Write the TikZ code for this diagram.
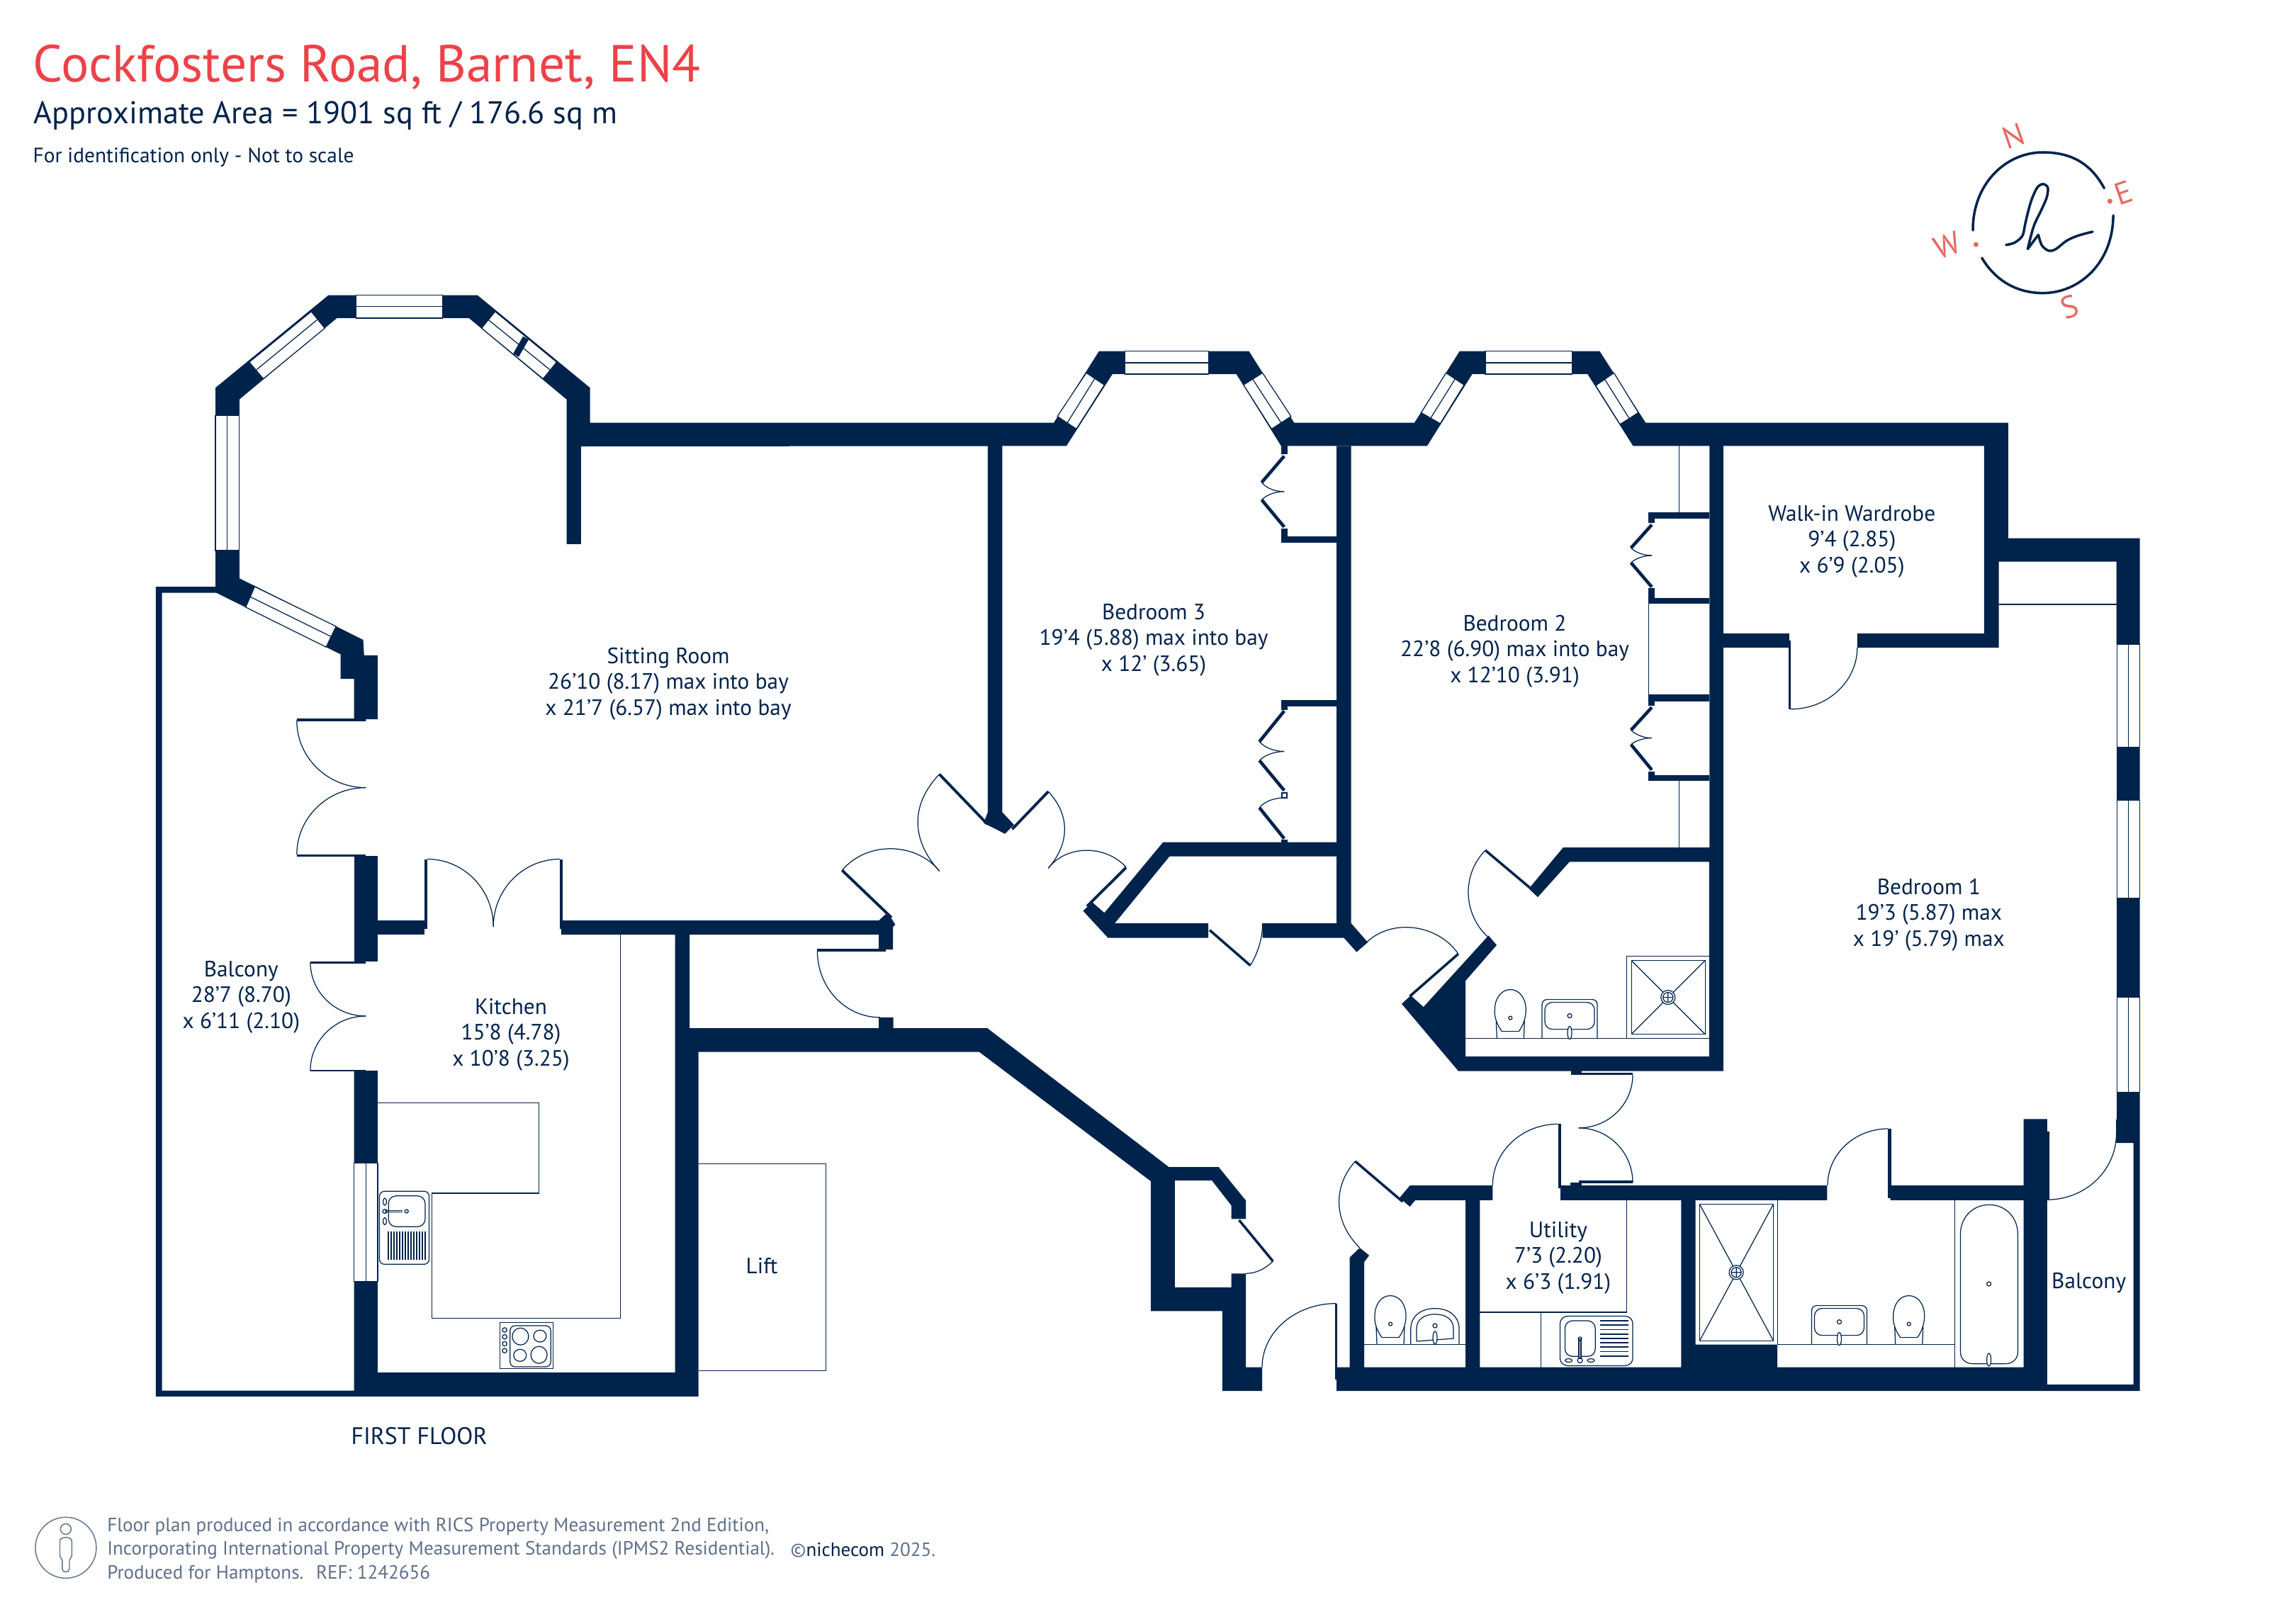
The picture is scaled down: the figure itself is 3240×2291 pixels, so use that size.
\documentclass[tikz,border=0pt]{standalone}
\usepackage{fontspec}
\setmainfont{PT Sans}
\definecolor{navy}{RGB}{0,35,75}
\definecolor{brandred}{RGB}{236,66,72}
\definecolor{compred}{RGB}{230,106,98}
\definecolor{foot}{RGB}{95,112,137}
\tikzset{
 wall/.style={fill=navy,draw=none},
 fixture/.style={draw=navy,line width=0.35pt},
 leaf/.style={draw=navy,line width=1.3pt},
 window/.style={fill=white,draw=navy,line width=0.35pt},
 room/.style={text=navy,align=center,inner sep=0pt,font=\fontsize{8.9}{10.35}\selectfont},
 head/.style={inner sep=0pt,anchor=base west},
 footer/.style={inner sep=0pt,anchor=west,text=foot,font=\fontsize{7.7}{9}\selectfont},
 compass/.style={text=compred,inner sep=0pt,rotate=19,font=\fontsize{12.5}{13}\selectfont}
}
\newcommand\arcVH[4]{\draw[fixture] (#1,#2) .. controls (#1,{#2+0.5523*(#4-#2)}) and ({#3-0.5523*(#3-#1)},#4) .. (#3,#4);}
\newcommand\winbox[6]{\filldraw[window] #1 -- #2 -- #3 -- #4 -- cycle; \draw[fixture] #5 -- #6;}
\newcommand\wcpan[2]{\begin{scope}[shift={(#1,#2)}]
 \draw[fixture] (-12,-10) .. controls (-18,-18) and (-23,-30) .. (-22,-40) .. controls (-22,-58) and (-12,-69) .. (0,-69) .. controls (12,-69) and (22,-58) .. (22,-40) .. controls (22,-30) and (18,-18) .. (12,-10) -- cycle;
 \draw[fixture] (-20,-25) -- (-19,0) (20,-25) -- (19,0);
 \draw[fixture] (0,-29) circle (2.5);
 \end{scope}}
\newcommand\basin[2]{\begin{scope}[shift={(#1,#2)}]
 \draw[fixture,rounded corners=2] (-39,0) -- (-39,-55) -- (39,-55) -- (39,0);
 \draw[fixture,rounded corners=3] (-35,-51) rectangle (35,-13);
 \draw[fixture] (0,-32) circle (3);
 \draw[fixture,fill=white] (0,-8) ellipse (3 and 9);
 \end{scope}}
\newcommand\drain[2]{\begin{scope}[shift={(#1,#2)}]
 \draw[fixture,fill=white] (0,0) circle (10);
 \draw[fixture] (0,0) circle (7) (-7,0) -- (7,0) (0,-7) -- (0,7);
 \end{scope}}
\begin{document}
\begin{tikzpicture}[x=0.01cm,y=-0.01cm]
\useasboundingbox (0,0) rectangle (3240,2291);
\fill[white] (0,0) rectangle (3240,2291);

% main upper wall run
\fill[wall] (304,547.3) -- (463.4,416.7) -- (673.9,416.7) -- (832.7,547.3) -- (832.7,596.5) -- (1487,596.7) -- (1550.8,495.7) -- (1762.5,495.7) -- (1826.3,596.7) -- (1995.9,596.7) -- (2059.7,495.7) -- (2257.4,495.7) -- (2322.3,596.7) -- (2833.8,596.7) -- (2833.8,759.5) -- (3019.7,759.5) -- (3019.7,909) -- (2986.5,909) -- (2986.5,792.7) -- (2820.6,792.7) -- (2820.6,914.1) -- (2620.8,914.1) -- (2620.8,894.2) -- (2799.9,894.2) -- (2799.9,629.4) -- (2304.5,629.4) -- (2240.2,527.9) -- (2077.6,527.9) -- (2013.8,629.4) -- (1807.8,629.4) -- (1744.6,527.9) -- (1569.9,527.9) -- (1504.8,629.4) -- (819.9,630) -- (819.9,767.8) -- (799.5,767.8) -- (799.5,563.7) -- (661.7,448.9) -- (475.5,448.9) -- (337.8,563.7) -- (337.8,816.2) -- (512.5,903) -- (513.8,924.9) -- (532.9,924.9) -- (532.9,1015.2) -- (516.3,1015.2) -- (516.3,1017.8) -- (418.8,1017.8) -- (418.8,1014.2) -- (499.7,1014.2) -- (499.7,958) -- (480.6,958) -- (480.6,923.4) -- (305.2,836.6) -- (304,828) -- cycle;
% thin balcony wall
\fill[wall] (219.8,828) -- (305,828) -- (305,836.6) -- (228.7,836.6) -- (228.7,1962.6) -- (510,1962.6) -- (510,1970.8) -- (219.8,1970.8) -- cycle;
% wall between sitting room door and kitchen
\fill[wall] (499.7,1208) rectangle (532.9,1357.2);
\fill[wall] (532.9,1299.2) rectangle (599.2,1319.2);
\fill[wall] (599.2,1212.5) rectangle (603,1311);
\fill[wall] (790,1212.5) rectangle (793.7,1311);
\fill[wall] (418.8,1206) rectangle (516.3,1209);
\fill[wall] (437.9,1357) rectangle (516.3,1360);
\fill[wall] (437.9,1509.5) rectangle (516.3,1512);
% kitchen and corridor wall
\fill[wall] (499.7,1511) -- (532.9,1511) -- (532.9,1937.1) -- (952.5,1937.1) -- (952.5,1319.2) -- (791.8,1319.2) -- (791.8,1299.2) -- (1240,1299.2) -- (1250,1290) -- (1258.3,1296.7) -- (1263.3,1305) -- (1260,1308.3) -- (1260,1340) -- (1240.2,1340) -- (1240.2,1319.2) -- (973,1319.2) -- (973,1451) -- (1240.2,1451) -- (1240.2,1435.8) -- (1260.6,1435.8) -- (1260.6,1451) -- (1393.2,1451) -- (1649.6,1647.2) -- (1719.8,1647.2) -- (1758,1694.3) -- (1758,1720.3) -- (1737.6,1720.3) -- (1737.6,1701.4) -- (1710.2,1666.1) -- (1657.9,1666.1) -- (1657.9,1816.8) -- (1737.6,1816.8) -- (1737.6,1797.3) -- (1758,1797.3) -- (1758,1929.6) -- (1781,1929.6) -- (1781,1963.1) -- (1724.9,1963.1) -- (1724.9,1850.4) -- (1624.1,1850.4) -- (1624.1,1667.2) -- (1381.8,1484.6) -- (985.7,1484.6) -- (985.7,1970.8) -- (499.7,1970.8) -- cycle;
\fill[wall] (1153.4,1339.3) rectangle (1250,1343);
% lower right walls
\fill[wall] (1904.7,1774.5) -- (1918.8,1761) -- (1932.1,1771.8) -- (1925.1,1781) -- (1925.1,1929.6) -- (2068,1929.6) -- (2068,1693.8) -- (1997.2,1693.8) -- (1989.5,1703) -- (1974.9,1690.5) -- (1989.5,1673.2) -- (2106.3,1673.2) -- (2106.3,1693.8) -- (2088.4,1693.8) -- (2088.4,1929.6) -- (2372.3,1929.6) -- (2372.3,1693.8) -- (2202,1693.8) -- (2202,1673.2) -- (2578.3,1673.2) -- (2578.3,1693.8) -- (2392.7,1693.8) -- (2392.7,1897.6) -- (2508.2,1897.6) -- (2508.2,1929.6) -- (2855.7,1929.6) -- (2855.7,1693.8) -- (2667.6,1693.8) -- (2667.6,1673.2) -- (2855.7,1673.2) -- (2855.7,1579.4) -- (2888.9,1579.4) -- (2888.9,1596.8) -- (2892.1,1596.8) -- (2892.1,1693.2) -- (2888.9,1693.2) -- (2888.9,1954) -- (3010.7,1954) -- (3010.7,1613) -- (2987.1,1613) -- (2987.1,909) -- (3019.6,909) -- (3019.6,1963.1) -- (1886.2,1963.1) -- (1886.2,1929.6) -- (1904.7,1929.6) -- cycle;
% central wall and bedroom 2 en suite
\fill[wall] (2412.4,629) -- (2431.9,629) -- (2431.9,894.2) -- (2524.9,894.2) -- (2524.9,914.1) -- (2431.9,914.1) -- (2431.9,1511.7) -- (2058,1511.7) -- (1978,1416.8) -- (1990.8,1404.9) -- (2008.7,1421.1) -- (2100.5,1320.3) -- (2112,1333.9) -- (2068,1384.3) -- (2068,1491) -- (2411.9,1491) -- (2411.9,1216.3) -- (2214.8,1216.3) -- (2170,1266.1) -- (2157.4,1254.2) -- (2205.7,1196.2) -- (2412.4,1196.2) -- cycle;
% bedroom 3 right wall and cupboard
\fill[wall] (1886.2,629.4) -- (1906.6,629.4) -- (1906.6,1303) -- (1930.2,1330) -- (1914.3,1343.6) -- (1896.4,1323.6) -- (1781.6,1323.6) -- (1781.6,1303) -- (1886.2,1303) -- (1886.2,1208.7) -- (1650.3,1208.7) -- (1573.1,1303) -- (1705.1,1303) -- (1705.1,1323.6) -- (1563.5,1323.6) -- (1528.4,1285.6) -- (1541.2,1273.2) -- (1558.4,1288.3) -- (1641.3,1188.6) -- (1886.2,1188.6) -- cycle;
% sitting room / bedroom 3 wall
\fill[wall] (1393.9,629) -- (1414.3,629) -- (1414.3,1146.2) -- (1430.9,1164) -- (1418,1176.8) -- (1405,1170) -- (1388.1,1161.6) -- (1393.9,1146.2) -- cycle;

% windows
\winbox{(439.2,439.7)}{(458.3,463.2)}{(371.6,534.6)}{(351.8,511.1)}{(447.4,451.4)}{(362,521.8)}
\winbox{(502.3,416.7)}{(624.7,416.7)}{(624.7,448.9)}{(502.3,448.9)}{(502.3,432.6)}{(624.7,432.6)}
\winbox{(698.7,439.7)}{(679.6,463.2)}{(766.3,534.6)}{(785.5,511.1)}{(689.2,451.4)}{(775.9,521.8)}
\draw[navy,line width=2.6pt] (742,477) -- (728,501.4);
\winbox{(304,586.6)}{(337.8,586.6)}{(337.8,776.9)}{(304,776.9)}{(320.5,586.6)}{(320.5,776.9)}
\winbox{(359.4,828)}{(346.7,857)}{(460.2,913.2)}{(474.2,884)}{(353,842.2)}{(467.2,898.4)}
\winbox{(1532.9,526.3)}{(1558.4,543.2)}{(1518.9,605.4)}{(1492.1,587.6)}{(1544.4,535)}{(1506.1,596.7)}
\winbox{(1587.8,495.7)}{(1705.7,495.7)}{(1705.7,527.9)}{(1587.8,527.9)}{(1587.8,512)}{(1705.7,512)}
\winbox{(1781.6,526.3)}{(1754.8,543.2)}{(1794.4,605.4)}{(1821.8,587.6)}{(1767.6,535)}{(1807.8,596.7)}
\winbox{(2040.6,526.3)}{(2066,543.2)}{(2032.3,597.8)}{(2005.5,582.4)}{(2053.3,535)}{(2018.9,590)}
\winbox{(2096,495.7)}{(2218.4,495.7)}{(2218.4,527.9)}{(2096,527.9)}{(2096,512)}{(2218.4,512)}
\winbox{(2277.5,526.3)}{(2251.7,544.2)}{(2286.1,598.8)}{(2311.9,582.4)}{(2264.3,535)}{(2298.7,590)}
\winbox{(2987.1,909)}{(3019.6,909)}{(3019.6,1054.4)}{(2987.1,1054.4)}{(3003.5,909)}{(3003.5,1054.4)}
\winbox{(2987.1,1129.4)}{(3019.6,1129.4)}{(3019.6,1267.8)}{(2987.1,1267.8)}{(3003.5,1129.4)}{(3003.5,1267.8)}
\winbox{(2987.1,1407)}{(3019.6,1407)}{(3019.6,1541.5)}{(2987.1,1541.5)}{(3003.5,1407)}{(3003.5,1541.5)}
\winbox{(499.7,1641.7)}{(532.9,1641.7)}{(532.9,1808.1)}{(499.7,1808.1)}{(516.3,1641.7)}{(516.3,1808.1)}

% doors: leaves
\draw[leaf,line width=1.1pt] (1325.6,1092.7) -- (1393.2,1163);
\draw[leaf,line width=1.1pt] (1479.3,1117.1) -- (1428.3,1170.2);
\draw[leaf,line width=1.1pt] (1188.3,1228.3) -- (1258,1295);
\draw[leaf,line width=1.1pt] (1589,1224.4) -- (1534,1279);
\draw[leaf,line width=1pt] (1707,1312.7) -- (1764.4,1362.6);
\draw[leaf,line width=1pt] (1748.5,1722) -- (1796.3,1780);
\draw[leaf,line width=1pt] (1912.4,1639) -- (1979.3,1696);
\draw[leaf,line width=1pt] (2096,1200) -- (2158.5,1252.6);
\draw[leaf,line width=1pt] (2057.8,1346.3) -- (1989.5,1406);
\fill[wall] (1884,1840) rectangle (1887,1947);
\fill[wall] (2524.3,903.9) rectangle (2527.4,1000.8);
\fill[wall] (2198.9,1586.4) rectangle (2203.3,1677);
\fill[wall] (2227.6,1666.3) rectangle (2304,1669.5);
\fill[wall] (2216,1669) rectangle (2232,1674);
\fill[wall] (2227.6,1513.5) rectangle (2304,1516.5);
\fill[wall] (2217,1511) rectangle (2232,1517);
\fill[wall] (2664.4,1593) rectangle (2668.9,1690.5);
\fill[wall] (2985.5,1580) rectangle (2987.5,1613);

% door swings
\arcVH{418.8}{1017}{516.3}{1111.6}
\arcVH{418.8}{1206}{516.3}{1111.6}
\arcVH{437.9}{1358}{516.3}{1434}
\arcVH{437.9}{1511}{516.3}{1434}
\arcVH{696.2}{1308}{603}{1212.5}
\arcVH{696.2}{1308}{790}{1212.5}
\arcVH{1153.4}{1342}{1241.5}{1435.8}
\arcVH{2620.8}{914}{2527}{1000.8}
\arcVH{1781}{1929.6}{1885.6}{1839.6}
\arcVH{2106.3}{1673}{2198.7}{1586.4}
\arcVH{2304}{1517}{2227.6}{1591.9}
\arcVH{2304}{1669}{2227.6}{1591.9}
\arcVH{2579}{1673}{2664.4}{1593}
\arcVH{2986.5}{1600}{2888.9}{1693.2}
\draw[fixture] (1796.3,1780) .. controls (1785,1791) and (1772,1797.3) .. (1758,1797.3);
\draw[fixture] (1912.4,1639) .. controls (1880,1675) and (1882,1725) .. (1918.8,1761);
\draw[fixture] (1764.4,1362.6) .. controls (1775,1345) and (1781.6,1325) .. (1781.6,1303);
\draw[fixture] (1325.6,1092.7) .. controls (1285,1135) and (1285,1185) .. (1325.6,1229.4);
\draw[fixture] (1479.3,1117.1) .. controls (1510,1150) and (1510,1190) .. (1479.3,1225.3);
\draw[fixture] (1325.6,1229.4) .. controls (1295,1190) and (1225,1185) .. (1188.3,1228.3);
\draw[fixture] (1479.3,1225.3) .. controls (1505,1192) and (1560,1192) .. (1589,1223.8);
\draw[fixture] (2096,1200) .. controls (2062,1235) and (2065,1290) .. (2099.2,1322);
\draw[fixture] (2057.8,1346.3) .. controls (2030,1305) and (1965,1295) .. (1928.3,1330);

% bedroom 3 cupboards
\fill[wall] (1808.4,629.4) rectangle (1816.7,641.1);
\fill[wall] (1808.4,745.7) rectangle (1816.7,766.1);
\fill[wall] (1808.4,756.9) rectangle (1886.2,766.1);
\fill[wall] (1808.4,988) rectangle (1886.2,996.7);
\fill[wall] (1808.4,988) rectangle (1816.7,1002.3);
\fill[wall] (1808.4,1184.5) rectangle (1816.7,1188.6);
\draw[leaf] (1812.2,643.7) -- (1780.4,680.9);
\draw[leaf] (1780.4,705.4) -- (1812.2,743.7);
\draw[leaf] (1812.2,1003.4) -- (1777.2,1046.7);
\draw[leaf] (1777.2,1073.3) -- (1812.2,1115.6);
\draw[leaf] (1777.2,1140) -- (1812.2,1183.5);
\draw[fixture] (1780.4,680.9) .. controls (1788,690) and (1800,693.7) .. (1812.2,693.7);
\draw[fixture] (1780.4,705.4) .. controls (1788,698) and (1800,693.7) .. (1812.2,693.7);
\draw[fixture] (1777.2,1046.7) .. controls (1785,1056) and (1800,1060.5) .. (1812.2,1060.5);
\draw[fixture] (1777.2,1073.3) .. controls (1785,1065) and (1800,1060.5) .. (1812.2,1060.5);
\draw[fixture] (1777.2,1140) .. controls (1785,1130) and (1800,1125.8) .. (1815,1125.8);
\draw[fixture,fill=white] (1809,1119) rectangle (1816,1126);
% bedroom 2 cupboards
\draw[fixture] (2369.3,629.4) -- (2369.3,723.3);
\draw[fixture] (2369.3,1101.8) -- (2369.3,1196.2);
\draw[fixture] (2326.3,851.8) -- (2326.3,980.4);
\fill[wall] (2326.3,723.3) rectangle (2412.4,732);
\fill[wall] (2326.3,723.3) rectangle (2334.9,738);
\fill[wall] (2326.3,829.9) rectangle (2334.9,851.8);
\fill[wall] (2326.3,843.7) rectangle (2412.4,851.8);
\fill[wall] (2326.3,980.4) rectangle (2412.4,989.6);
\fill[wall] (2326.3,980.4) rectangle (2334.9,995.7);
\fill[wall] (2326.3,1088.6) rectangle (2334.9,1101.8);
\fill[wall] (2326.3,1093.7) rectangle (2412.4,1101.8);
\draw[leaf] (2330.9,740.6) -- (2301.6,773.3);
\draw[leaf] (2301.6,794.2) -- (2330.9,828.4);
\draw[leaf] (2330.9,998.3) -- (2301.6,1030.4);
\draw[leaf] (2301.6,1050.8) -- (2330.9,1086.5);
\draw[fixture] (2301.6,773.3) .. controls (2308,780) and (2320,784) .. (2330.9,784);
\draw[fixture] (2301.6,794.2) .. controls (2308,788) and (2320,784) .. (2330.9,784);
\draw[fixture] (2301.6,1030.4) .. controls (2308,1037) and (2320,1041.6) .. (2330.9,1041.6);
\draw[fixture] (2301.6,1050.8) .. controls (2308,1045) and (2320,1041.6) .. (2330.9,1041.6);

% bedroom 1 recess line
\draw[fixture] (2820.6,852.9) -- (2986.5,852.9);

% kitchen worktop, sink, hob
\draw[fixture] (875.4,1319.2) -- (875.4,1860.2) -- (609.4,1860.2) -- (609.4,1684) -- (760.6,1684) -- (760.6,1556.6) -- (532.9,1556.6);
\draw[fixture,rounded corners=2] (535.5,1681.3) rectangle (605.6,1784.3);
\draw[fixture,rounded corners=3] (548.2,1687.8) rectangle (599.9,1731.2);
\foreach \xx in {548,552,556,560,564,568,572,576,580,584,588,592,596,600} {\draw[navy,line width=0.45pt] (\xx,1738.2) -- (\xx,1777.8);}
\draw[fixture] (543,1696) ellipse (2.5 and 5);
\draw[fixture] (543,1723.6) ellipse (2.5 and 5);
\draw[fixture] (543,1709.5) circle (3);
\draw[fixture] (543,1708.5) -- (568,1708.5) (543,1710.5) -- (568,1710.5);
\draw[fixture] (573.7,1709.5) circle (2.5);
\draw[fixture] (705.7,1866.7) rectangle (780.4,1931.7);
\draw[fixture,rounded corners=2] (719.8,1871) rectangle (777.2,1929);
\draw[fixture] (734.4,1886.2) ellipse (11.5 and 12);
\draw[fixture] (761.9,1885.6) ellipse (9 and 8.5);
\draw[fixture] (733.8,1912.8) ellipse (9 and 8.5);
\draw[fixture] (760.6,1912.2) ellipse (11.5 and 12);
\foreach \yy in {1877,1886.7,1896.5,1906.2} {\draw[fixture] (712.1,\yy) circle (3.2);}
% lift
\draw[fixture] (985.7,1642.8) -- (1165.6,1642.8) -- (1165.6,1934.4) -- (985.7,1934.4);

% cloakroom
\draw[fixture] (1925.1,1897.6) -- (2068,1897.6);
\wcpan{1962}{1897.6}
\draw[fixture] (1990.8,1897.6) -- (1990.8,1875) .. controls (1990.8,1858) and (2005,1846.6) .. (2025,1846.6) .. controls (2045,1846.6) and (2059,1858) .. (2059,1875) -- (2059,1897.6);
\draw[fixture] (1999,1893) -- (1999,1875) .. controls (1999,1862) and (2010,1854.8) .. (2025,1854.8) .. controls (2040,1854.8) and (2051,1862) .. (2051,1875) -- (2051,1889) -- (1999,1893);
\draw[fixture] (2025,1871) circle (3);
\draw[fixture,fill=white] (2025,1888) ellipse (3 and 9);
% utility
\draw[fixture] (2088.4,1852) -- (2295.2,1852) -- (2295.2,1693.8);
\draw[fixture] (2174.6,1852) -- (2174.6,1929.6);
\draw[fixture,rounded corners=3] (2201.4,1857.5) rectangle (2304,1927.4);
\draw[fixture,rounded corners=3] (2208.4,1864) rectangle (2251.1,1914.3);
\foreach \yy in {1864,1870.2,1876.4,1882.6,1888.8,1895,1901.2,1907.4,1913.6} {\draw[navy,line width=0.5pt] (2258.2,\yy) -- (2297.7,\yy);}
\draw[fixture,fill=white] (2228,1889.4) rectangle (2231,1917);
\draw[fixture] (2229.5,1889.4) circle (2.5) (2229.5,1920) circle (3.5);
\draw[fixture] (2213.5,1920) ellipse (5 and 2.5) (2245,1920) ellipse (5 and 2.5);
% bedroom 2 en suite
\draw[fixture] (2068,1465.6) -- (2411.9,1465.6);
\wcpan{2131.3}{1465.6}
\basin{2215}{1465.6}
\draw[fixture] (2295.8,1465.6) -- (2295.8,1349.6) -- (2411.9,1349.6);
\draw[fixture] (2302.2,1355.6) rectangle (2406.1,1459.6);
\draw[fixture] (2302.2,1355.6) -- (2406.1,1459.6) (2302.2,1459.6) -- (2406.1,1355.6);
\drain{2353.8}{1407.6}
% bedroom 1 en suite
\draw[fixture] (2508.2,1693.8) -- (2508.2,1897.6);
\draw[fixture] (2398.5,1699.7) rectangle (2502.4,1892.1);
\draw[fixture] (2398.5,1699.7) -- (2502.4,1892.1) (2398.5,1892.1) -- (2502.4,1699.7);
\drain{2450.1}{1795.7}
\draw[fixture] (2508.2,1897.6) -- (2758.2,1897.6);
\draw[fixture] (2758.2,1693.8) -- (2758.2,1929.6);
\basin{2595.5}{1897.6}
\wcpan{2693.7}{1897.6}
\draw[fixture] (2766.4,1742) .. controls (2766.4,1718) and (2784,1700.3) .. (2806.9,1700.3) .. controls (2830,1700.3) and (2847.4,1718) .. (2847.4,1742) -- (2847.4,1908) .. controls (2847.4,1918) and (2840,1924.7) .. (2830,1924.7) -- (2784,1924.7) .. controls (2774,1924.7) and (2766.4,1918) .. (2766.4,1908) -- cycle;
\draw[fixture] (2806.6,1811.9) circle (3);
\draw[fixture,fill=white] (2806.6,1919) ellipse (3 and 9);

% compass
\draw[navy,line width=1pt,line cap=round] (2969.3,265.6) .. controls (2950,230) and (2922,215) .. (2882.7,215) .. controls (2830,215) and (2783.5,260) .. (2784,325);
\draw[navy,line width=1pt,line cap=round] (2796.7,364) .. controls (2815,395) and (2845,413.6) .. (2882.7,413.6) .. controls (2935,413.6) and (2982,370) .. (2982,304);
\fill[compred] (2977.3,284) circle (3.6);
\fill[compred] (2788.3,345) circle (3.6);
\begin{scope}[shift={(2700,150)},x=0.003333cm,y=-0.003333cm]
\draw[navy,line width=1pt,line cap=round,line join=round] plot[smooth,tension=0.55] coordinates {(393,588) (430,578) (462,550) (472,510) (482,465) (500,400) (525,345) (550,330) (570,345) (566,385) (545,435) (510,510) (485,605)};
\draw[navy,line width=1pt,line cap=round,line join=round] (485,605) -- (530,545);
\draw[navy,line width=1pt,line cap=round,line join=round] plot[smooth,tension=0.55] coordinates {(530,545) (545,590) (575,613) (605,605) (650,570) (700,548) (760,532)};
\end{scope}
\node[compass] (compN) at (2841,191.7) {N};
\node[compass] (compE) at (2996.7,271.7) {E};
\node[compass] (compS) at (2920,433) {S};
\node[compass] (compW) at (2747.7,346.7) {W};

% headings
\node[head,text=brandred,font=\fontsize{20.9}{24}\selectfont] (title) at (46,116) {Cockfosters Road, Barnet, EN4};
\node[head,text=navy,font=\fontsize{12.6}{15}\selectfont] (area) at (47,175) {Approximate Area = 1901 sq ft / 176.6 sq m};
\node[head,text=navy,font=\fontsize{8.35}{10}\selectfont] (note) at (46,229) {For identification only - Not to scale};

% room labels
\node[room] (sitting) at (943,965) {Sitting Room\\26'10 (8.17) max into bay\\x 21'7 (6.57) max into bay};
\node[room] (bed3) at (1628,903) {Bedroom 3\\19'4 (5.88) max into bay\\x 12' (3.65)};
\node[room] (bed2) at (2137.5,919) {Bedroom 2\\22'8 (6.90) max into bay\\x 12'10 (3.91)};
\node[room] (wardrobe) at (2613.3,764) {Walk-in Wardrobe\\9'4 (2.85)\\x 6'9 (2.05)};
\node[room] (bed1) at (2721.8,1291) {Bedroom 1\\19'3 (5.87) max\\x 19' (5.79) max};
\node[room] (utility) at (2198.9,1775) {Utility\\7'3 (2.20)\\x 6'3 (1.91)};
\node[room] (balcR) at (2947.6,1811) {Balcony};
\node[room] (balcL) at (340.3,1407) {Balcony\\28'7 (8.70)\\x 6'11 (2.10)};
\node[room] (kitchen) at (721,1460) {Kitchen\\15'8 (4.78)\\x 10'8 (3.25)};
\node[room] (lift) at (1075,1787) {Lift};
\node[room,font=\fontsize{9.6}{11}\selectfont] (floor) at (591.6,2027) {FIRST FLOOR};

% footer
\draw[foot,line width=0.4pt] (92.9,2184.3) ellipse (43 and 43);
\draw[foot,line width=0.4pt] (92.9,2158) circle (7.5);
\draw[foot,line width=0.4pt] (84.5,2175) .. controls (84.5,2168) and (101.3,2168) .. (101.3,2175) -- (101.3,2196) -- (98,2202) -- (98,2214) .. controls (98,2220) and (87.8,2220) .. (87.8,2214) -- (87.8,2202) -- (84.5,2196) -- cycle;
\node[footer] (foot1) at (150.6,2155) {Floor plan produced in accordance with RICS Property Measurement 2nd Edition,};
\node[footer] (foot2) at (150.6,2188) {Incorporating International Property Measurement Standards (IPMS2 Residential).};
\node[footer] (foot3) at (150.6,2222) {Produced for Hamptons.\hspace{5pt}REF: 1242656};
\node[footer] (foot4) at (1115,2188) {©\textcolor{navy}{nichecom} 2025.};
\end{tikzpicture}
\end{document}
